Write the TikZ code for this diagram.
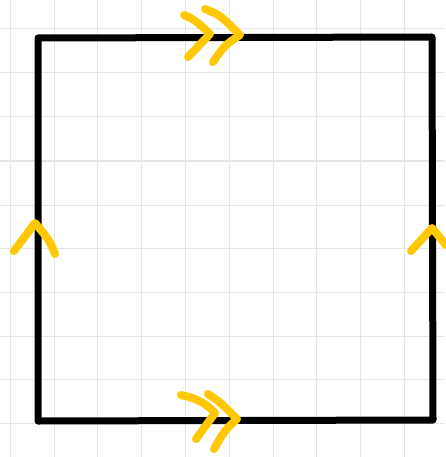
\documentclass[tikz,border=0pt]{standalone}
\begin{document}
\begin{tikzpicture}[x=1pt,y=-1pt,
  gridline/.style={draw=black!10,line width=1pt},
  edge/.style={draw=black,line width=7pt,line cap=round,line join=round},
  chev/.style={draw={rgb,255:red,255;green,200;blue,0},line width=8pt,line cap=round,line join=round}]
\useasboundingbox (0,0) rectangle (445,457);
\fill[white] (0,0) rectangle (445,457);
% grid
\foreach \x in {10,54,97,141,185,229,273,316,360,404}
  \draw[gridline] (\x,0) -- (\x,457);
\foreach \y in {29,73,117,161,205,248,292,336,379,423}
  \draw[gridline] (0,\y) -- (445,\y);
% square
\draw[edge] (38,38) -- (432,37) -- (433,420) -- (38,421) -- cycle;
% top double arrow
\draw[chev] (184,15) .. controls (195,20) .. (210,34) -- (188,57);
\draw[chev] (205,9) .. controls (220,15) .. (240,35) .. controls (225,45) .. (213,62);
% left arrow
\draw[chev] (14,251) -- (35,223) .. controls (45,235) and (50,240) .. (55,254);
% right arrow
\draw[chev] (411,251) -- (432,228) -- (446,245);
% bottom double arrow
\draw[chev] (181,395) .. controls (195,398) and (205,402) .. (215,413) -- (196,439);
\draw[chev] (208,394) .. controls (220,402) .. (237,419) .. controls (225,430) .. (214,449);
\end{tikzpicture}
\end{document}
